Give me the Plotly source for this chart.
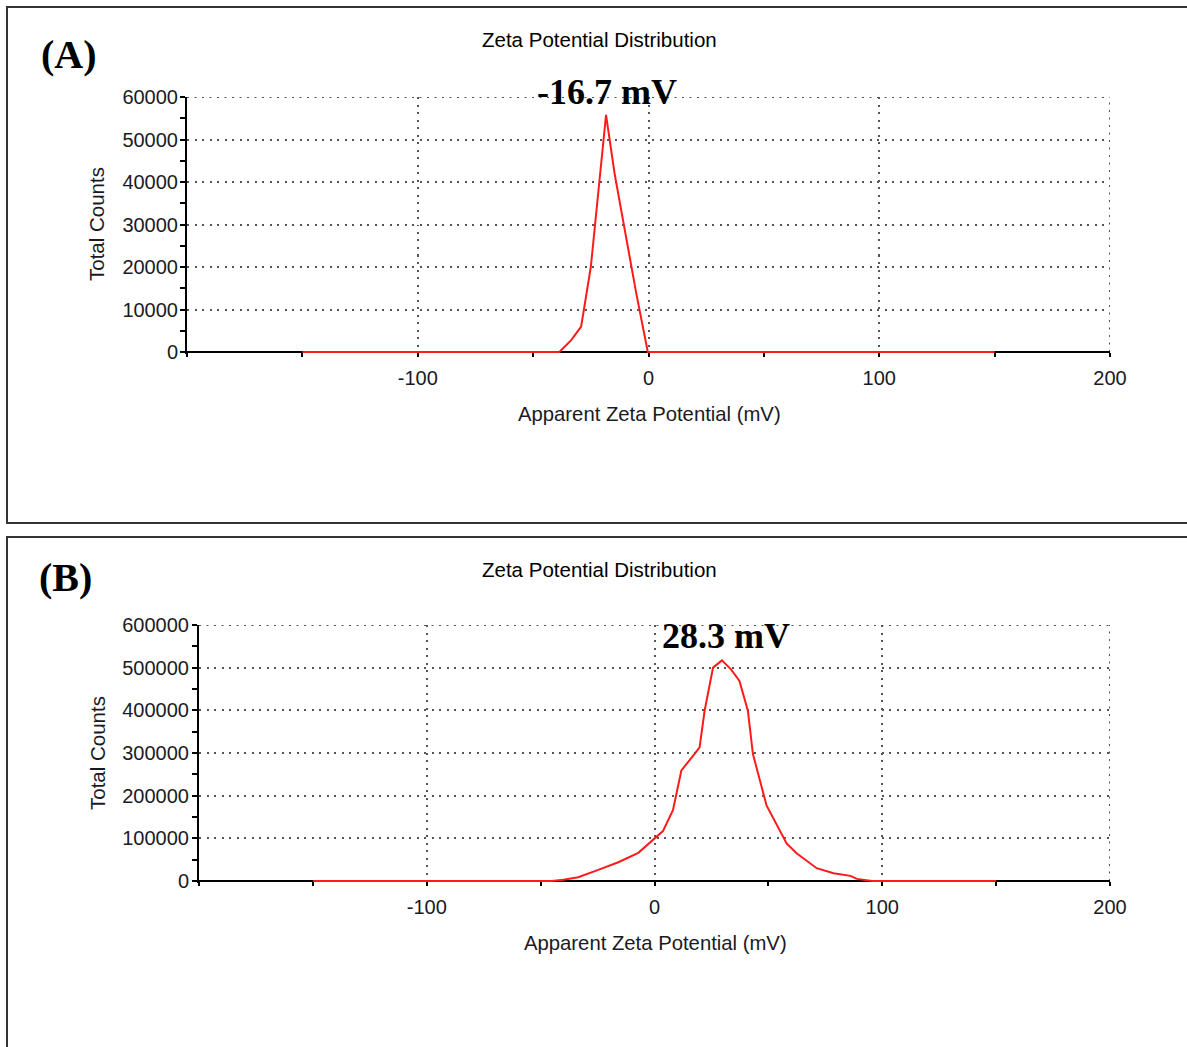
import plotly.graph_objects as go

# ---------------- data ----------------
zeta_a_mv = [-150, -38.6, -33.5, -29.2, -25.0, -21.4, -18.4, -14.7, -9.7, -5.3, -0.3, 150]
counts_a = [0, 0, 2800, 5950, 20000, 40500, 55800, 42000, 26500, 13800, 0, 0]

zeta_b_mv = [-150, -45, -40, -33.5, -24.7, -15.9, -7.1, 0, 3.7, 8.1, 11.8, 17.6, 19.8, 22,
             25.7, 29.6, 33.6, 37.3, 41, 43.2, 49.2, 58, 62.4, 71.2, 78.6, 86, 88.9, 95.5, 150]
counts_b = [0, 0, 3000, 9000, 26000, 44000, 66000, 100000, 117000, 166000, 259000, 298000,
            313000, 399000, 500000, 517000, 496000, 469000, 399000, 298000, 177000, 88000,
            65000, 30000, 18000, 12000, 5000, 0, 0]

x_tickvals = [-100, 0, 100, 200]
x_ticktext = ["-100", "0", "100", "200"]
panel_labels = ["(A)", "(B)"]
peak_labels = ["-16.7 mV", "28.3 mV"]
peak_x = [-16.7, 28.3]
chart_title = "Zeta Potential Distribution"
x_title = "Apparent Zeta Potential (mV)"
y_title = "Total Counts"

W, H = 1187, 1047
SANS = "Liberation Sans, Arial, sans-serif"
SERIF = "Liberation Serif, Times New Roman, serif"
TXT = "#1a1a24"
GRID_DASH = "2px,5.5px"
GRID_COLOR = "#555555"
PAD_PX = 1.7  # small pad below zero so the zero-level red line is not clipped


def px(x):
    return x / W


def py(y):
    return 1 - y / H


fig = go.Figure()
fig.add_trace(go.Scatter(x=zeta_a_mv, y=counts_a, mode="lines",
                         line=dict(color="#ff1a1a", width=2), xaxis="x", yaxis="y",
                         showlegend=False, hoverinfo="skip"))
fig.add_trace(go.Scatter(x=zeta_b_mv, y=counts_b, mode="lines",
                         line=dict(color="#ff1a1a", width=2), xaxis="x2", yaxis="y2",
                         showlegend=False, hoverinfo="skip"))

grid_common = dict(showgrid=True, gridcolor=GRID_COLOR, gridwidth=2, griddash=GRID_DASH)


def xaxis_cfg(domain, ypos):
    return dict(domain=domain, anchor="free", position=ypos, range=[-200, 200],
                automargin=False,
                tickvals=x_tickvals, ticktext=x_ticktext,
                ticks="outside", ticklen=4, tickwidth=2, tickcolor="black",
                ticklabelstandoff=4,
                minor=dict(tickvals=[-200, -150, -50, 50, 150], ticks="outside", ticklen=4,
                           tickwidth=2, tickcolor="black", showgrid=False),
                showline=False, zeroline=False,
                tickfont=dict(family=SANS, size=20, color=TXT), **grid_common)


def xaxis_over(domain, ypos, over):
    return dict(domain=domain, anchor="free", position=ypos, overlaying=over,
                range=[-200, 200], automargin=False,
                tickvals=[-200, -150, -100, -50, 0, 50, 100, 150, 200],
                ticks="inside", ticklen=4, tickwidth=2, tickcolor="black",
                showticklabels=False, showgrid=False, showline=False, zeroline=False)


def yaxis_cfg(domain, anchor, rng, step, standoff):
    return dict(domain=domain, anchor=anchor, range=rng, dtick=step, tick0=0,
                automargin=False,
                ticks="outside", ticklen=5, tickwidth=2, tickcolor="black",
                ticklabelstandoff=standoff,
                minor=dict(dtick=step / 2, tick0=0, ticks="outside", ticklen=5, tickwidth=2,
                           tickcolor="black", showgrid=False),
                showline=True, linecolor="black", linewidth=2, zeroline=False,
                tickformat="d",
                tickfont=dict(family=SANS, size=20, color=TXT), **grid_common)


def yaxis_over(domain, anchor, over, rng, step):
    return dict(domain=domain, anchor=anchor, overlaying=over, range=rng, dtick=step / 2,
                tick0=0, automargin=False,
                ticks="inside", ticklen=5, tickwidth=2, tickcolor="black",
                showticklabels=False, showgrid=False, showline=False, zeroline=False)


ymax_a, ymax_b = 60000, 600000
top_a, zero_a = 97, 352
top_b, zero_b = 625, 881
pad_a = ymax_a * PAD_PX / (zero_a - top_a)
pad_b = ymax_b * PAD_PX / (zero_b - top_b)
rng_a = [-pad_a, ymax_a]
rng_b = [-pad_b, ymax_b]

dom_xa = [px(187), px(1110)]
dom_ya = [py(zero_a + PAD_PX), py(top_a)]
dom_xb = [px(199), px(1110)]
dom_yb = [py(zero_b + PAD_PX), py(top_b)]

fig.update_layout(
    width=W, height=H,
    margin=dict(l=0, r=0, t=0, b=0, pad=0, autoexpand=False),
    paper_bgcolor="white", plot_bgcolor="white",
    xaxis=xaxis_cfg(dom_xa, py(zero_a)),
    yaxis=yaxis_cfg(dom_ya, "x", rng_a, 10000, -2),
    xaxis2=xaxis_cfg(dom_xb, py(zero_b)),
    yaxis2=yaxis_cfg(dom_yb, "x2", rng_b, 100000, -1),
    xaxis3=xaxis_over(dom_xa, py(zero_a), "x"),
    yaxis3=yaxis_over(dom_ya, "x3", "y", rng_a, 10000),
    xaxis4=xaxis_over(dom_xb, py(zero_b), "x2"),
    yaxis4=yaxis_over(dom_yb, "x4", "y2", rng_b, 100000),
    showlegend=False,
)

for xr, yr, ymax in (("x", "y", ymax_a), ("x2", "y2", ymax_b)):
    # edge gridlines (top and right) that plotly omits at range ends
    fig.add_shape(type="line", xref=xr, yref=yr, x0=-200, x1=200, y0=ymax, y1=ymax,
                  line=dict(color=GRID_COLOR, width=2, dash=GRID_DASH), layer="below")
    fig.add_shape(type="line", xref=xr, yref=yr, x0=200, x1=200, y0=0, y1=ymax,
                  line=dict(color=GRID_COLOR, width=2, dash=GRID_DASH), layer="below")
    # x axis baseline, kept under the red trace
    fig.add_shape(type="line", xref=xr, yref=yr, x0=-200, x1=200, y0=0, y1=0,
                  line=dict(color="black", width=2), layer="between")

# panel borders
fig.add_shape(type="rect", xref="paper", yref="paper",
              x0=px(7), x1=px(1192), y0=py(523), y1=py(7),
              line=dict(color="#333333", width=2), layer="below")
fig.add_shape(type="rect", xref="paper", yref="paper",
              x0=px(7), x1=px(1192), y0=py(1052), y1=py(537),
              line=dict(color="#333333", width=2), layer="below")

annots = []
panel_y = [(40, 224, 414, 54, 92), (569, 753, 943, 577, 636)]
panel_xc = [(649, 69), (655, 65)]
for i in range(2):
    t_y, yt_y, xt_y, lab_y, pk_y = panel_y[i]
    xc, lab_x = panel_xc[i]
    xa = "x" if i == 0 else "x2"
    annots.append(dict(text=chart_title, xref="paper", yref="paper", x=px(600), y=py(t_y),
                       showarrow=False, xanchor="center", yanchor="middle",
                       font=dict(family=SANS, size=20.5, color="black")))
    annots.append(dict(text=y_title, xref="paper", yref="paper", x=px(97), y=py(yt_y),
                       showarrow=False, textangle=-90, xanchor="center", yanchor="middle",
                       font=dict(family=SANS, size=20.5, color=TXT)))
    annots.append(dict(text=x_title, xref="paper", yref="paper", x=px(xc), y=py(xt_y),
                       showarrow=False, xanchor="center", yanchor="middle",
                       font=dict(family=SANS, size=20.3, color=TXT)))
    annots.append(dict(text="<b>" + panel_labels[i] + "</b>", xref="paper", yref="paper",
                       x=px(lab_x), y=py(lab_y), showarrow=False,
                       xanchor="center", yanchor="middle",
                       font=dict(family=SERIF, size=40, color="black")))
    annots.append(dict(text="<b>" + peak_labels[i] + "</b>", xref=xa, yref="paper",
                       x=peak_x[i] - 1.5 if i == 0 else peak_x[i] + 3, y=py(pk_y),
                       showarrow=False, xanchor="center", yanchor="middle",
                       font=dict(family=SERIF, size=36, color="black")))
fig.update_layout(annotations=annots)

fig.write_html("out.html", config={"displayModeBar": False},
               post_script="document.body.style.margin='0';document.body.style.overflow='hidden';")
